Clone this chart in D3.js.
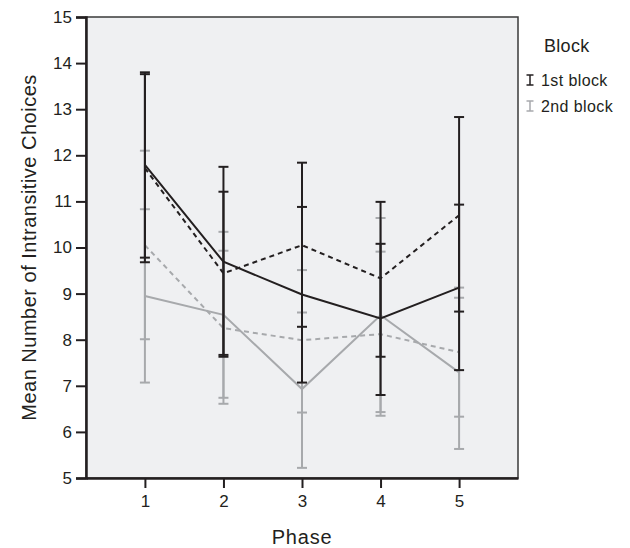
<!DOCTYPE html>
<html>
<head>
<meta charset="utf-8">
<script src="https://cdn.jsdelivr.net/npm/d3@7"></script>
<style>
  body { margin: 0; background: #fff; }
  text { font-family: "Liberation Sans", Arial, sans-serif; fill: #231f20; }
</style>
</head>
<body>
<div id="chart"></div>
<script>
var phases = [1, 2, 3, 4, 5]
var yTicks = [5, 6, 7, 8, 9, 10, 11, 12, 13, 14, 15]

// 1st block, solid line
var b1SolidMean = [11.79, 9.69, 8.98, 8.46, 9.13]
var b1SolidLow = [9.78, 7.63, 7.07, 6.80, 7.34]
var b1SolidHigh = [13.80, 11.75, 10.88, 10.08, 10.93]
// 1st block, dashed line
var b1DashMean = [11.72, 9.44, 10.05, 9.33, 10.70]
var b1DashLow = [9.68, 7.67, 8.28, 7.63, 8.61]
var b1DashHigh = [13.76, 11.21, 11.84, 10.99, 12.83]
// 2nd block, solid line
var b2SolidMean = [8.95, 8.54, 6.93, 8.53, 7.29]
var b2SolidLow = [7.07, 6.74, 5.22, 6.43, 5.63]
var b2SolidHigh = [10.83, 10.34, 8.59, 10.64, 8.91]
// 2nd block, dashed line
var b2DashMean = [10.05, 8.25, 7.99, 8.12, 7.73]
var b2DashLow = [8.01, 6.61, 6.42, 6.35, 6.33]
var b2DashHigh = [12.10, 9.93, 9.51, 9.91, 9.13]

var legendLabels = ['1st block', '2nd block']

var darkColor = '#231f20'
var grayColor = '#a7a9ac'

var margin = { left: 86, right: 112, top: 17, bottom: 70 }
var chartWidth = 630
var chartHeight = 548
var width = chartWidth - margin.left - margin.right
var height = chartHeight - margin.top - margin.bottom

var svg = d3.select('#chart')
  .append('svg')
  .attr('width', chartWidth)
  .attr('height', chartHeight)

var g = svg.append('g')
  .attr('transform', 'translate(' + margin.left + ',' + margin.top + ')')

var x = d3.scalePoint()
  .domain(phases)
  .range([0, width])
  .padding(0.75)

var y = d3.scaleLinear()
  .domain([5, 15])
  .range([height, 0])

g.append('rect')
  .attr('width', width)
  .attr('height', height)
  .style('fill', '#eff0f2')
  .style('stroke', '#3a3a3a')
  .style('stroke-width', 1.5)

function build(mean, low, high) {
  return phases.map(function(p, i) {
    return { phase: p, mean: mean[i], low: low[i], high: high[i] }
  })
}

var series = [
  { data: build(b2DashMean, b2DashLow, b2DashHigh), color: grayColor, dash: '5,4' },
  { data: build(b2SolidMean, b2SolidLow, b2SolidHigh), color: grayColor, dash: null },
  { data: build(b1DashMean, b1DashLow, b1DashHigh), color: darkColor, dash: '5,4' },
  { data: build(b1SolidMean, b1SolidLow, b1SolidHigh), color: darkColor, dash: null }
]

var line = d3.line()
  .x(function(d) { return x(d.phase) })
  .y(function(d) { return y(d.mean) })

var capW = 5

series.forEach(function(s) {
  var sg = g.append('g')

  var bars = sg.selectAll('g.err')
    .data(s.data)
    .enter()
    .append('g')
    .attr('class', 'err')
    .style('stroke', s.color)
    .style('stroke-width', 2)

  bars.append('line')
    .attr('x1', function(d) { return x(d.phase) })
    .attr('x2', function(d) { return x(d.phase) })
    .attr('y1', function(d) { return y(d.low) })
    .attr('y2', function(d) { return y(d.high) })

  bars.append('line')
    .attr('x1', function(d) { return x(d.phase) - capW })
    .attr('x2', function(d) { return x(d.phase) + capW })
    .attr('y1', function(d) { return y(d.low) })
    .attr('y2', function(d) { return y(d.low) })

  bars.append('line')
    .attr('x1', function(d) { return x(d.phase) - capW })
    .attr('x2', function(d) { return x(d.phase) + capW })
    .attr('y1', function(d) { return y(d.high) })
    .attr('y2', function(d) { return y(d.high) })

  sg.append('path')
    .datum(s.data)
    .attr('d', line)
    .style('fill', 'none')
    .style('stroke', s.color)
    .style('stroke-width', 2)
    .style('stroke-dasharray', s.dash)
})

// axes
var yAxis = g.append('g')
  .call(d3.axisLeft(y).tickValues(yTicks).tickSize(10).tickPadding(4))
yAxis.select('.domain').style('stroke', darkColor).style('stroke-width', 2.5)
yAxis.selectAll('.tick line').style('stroke', darkColor).style('stroke-width', 2)
yAxis.selectAll('text').style('font-size', '17px').style('fill', darkColor)
  .style('font-family', '"Liberation Sans", Arial, sans-serif')

var xAxis = g.append('g')
  .attr('transform', 'translate(0,' + height + ')')
  .call(d3.axisBottom(x).tickSize(10).tickPadding(7).tickSizeOuter(0))
xAxis.select('.domain').style('stroke', darkColor).style('stroke-width', 2.5)
xAxis.selectAll('.tick line').style('stroke', darkColor).style('stroke-width', 2)
xAxis.selectAll('text').style('font-size', '17px').style('fill', darkColor)
  .style('font-family', '"Liberation Sans", Arial, sans-serif')

svg.append('text')
  .attr('x', margin.left + width / 2)
  .attr('y', 544)
  .attr('text-anchor', 'middle')
  .style('font-size', '20px')
  .style('letter-spacing', '0.8px')
  .text('Phase')

svg.append('text')
  .attr('transform', 'translate(36,' + (margin.top + height / 2) + ') rotate(-90)')
  .attr('text-anchor', 'middle')
  .style('font-size', '20px')
  .style('letter-spacing', '0.5px')
  .text('Mean Number of Intransitive Choices')

// legend
svg.append('text')
  .attr('x', 544)
  .attr('y', 52)
  .style('font-size', '18px')
  .style('letter-spacing', '0.3px')
  .text('Block')

var legend = svg.selectAll('g.legend')
  .data(legendLabels)
  .enter()
  .append('g')
  .attr('class', 'legend')
  .attr('transform', function(d, i) { return 'translate(530,' + (80 + i * 26) + ')' })

legend.each(function(d, i) {
  var c = i === 0 ? darkColor : grayColor
  var lg = d3.select(this)
  lg.append('line').attr('x1', 0).attr('x2', 0).attr('y1', -5).attr('y2', 5)
    .style('stroke', c).style('stroke-width', 1.5)
  lg.append('line').attr('x1', -3.5).attr('x2', 3.5).attr('y1', -5).attr('y2', -5)
    .style('stroke', c).style('stroke-width', 1.5)
  lg.append('line').attr('x1', -3.5).attr('x2', 3.5).attr('y1', 5).attr('y2', 5)
    .style('stroke', c).style('stroke-width', 1.5)
  lg.append('text').attr('x', 11).attr('y', 6)
    .style('font-size', '16px')
    .style('letter-spacing', '0.4px')
    .text(d)
})
</script>
</body>
</html>
